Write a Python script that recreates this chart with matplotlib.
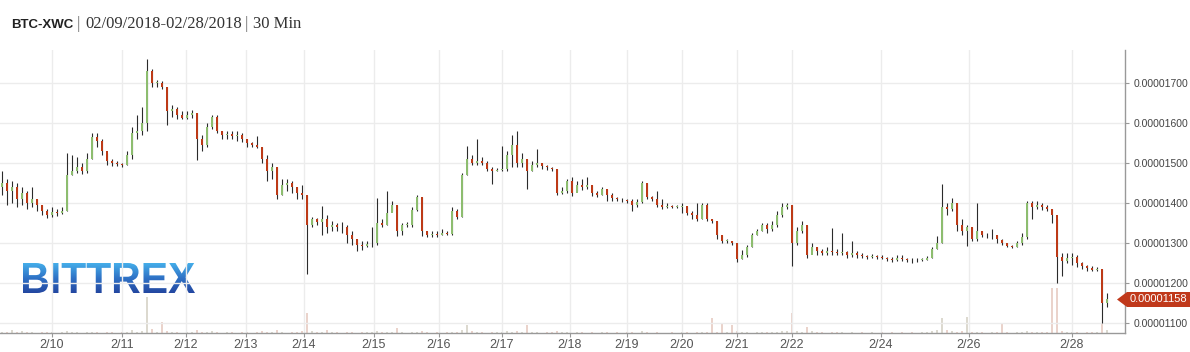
import numpy as np
import matplotlib
matplotlib.use("Agg")
import matplotlib.pyplot as plt
from matplotlib.textpath import TextPath
from matplotlib.patches import PathPatch, Polygon
from matplotlib.font_manager import FontProperties
from matplotlib.colors import LinearSegmentedColormap
from matplotlib.ticker import FuncFormatter

# prices in satoshi (1e-8 BTC), one candle per slot
first_open = 1440
close = [1450, 1430, 1440, 1410, 1425, 1400, 1410, 1395, 1380, 1370,
         1378, 1375, 1380, 1470, 1480, 1490, 1480, 1510, 1565, 1555,
         1530, 1505, 1500, 1497, 1495, 1520, 1575, 1580, 1600, 1730,
         1700, 1700, 1690, 1630, 1635, 1620, 1612, 1620, 1625, 1560,
         1545, 1590, 1615, 1580, 1570, 1572, 1568, 1570, 1560, 1548,
         1545, 1540, 1510, 1480, 1490, 1420, 1445, 1450, 1440, 1425,
         1420, 1345, 1358, 1352, 1360, 1340, 1345, 1338, 1340, 1320,
         1310, 1295, 1292, 1298, 1300, 1350, 1345, 1375, 1395, 1330,
         1345, 1345, 1383, 1415, 1330, 1320, 1322, 1320, 1325, 1322,
         1380, 1365, 1470, 1510, 1500, 1505, 1500, 1485, 1480, 1482,
         1485, 1520, 1545, 1500, 1510, 1480, 1495, 1500, 1492, 1488,
         1485, 1425, 1430, 1455, 1425, 1445, 1440, 1445, 1425, 1420,
         1435, 1420, 1412, 1410, 1408, 1405, 1395, 1402, 1450, 1415,
         1410, 1395, 1390, 1392, 1390, 1390, 1392, 1375, 1370, 1360,
         1395, 1360, 1355, 1320, 1305, 1305, 1298, 1260, 1270, 1290,
         1320, 1330, 1345, 1335, 1345, 1370, 1390, 1395, 1300, 1330,
         1345, 1270, 1290, 1280, 1275, 1280, 1278, 1275, 1278, 1270,
         1275, 1270, 1268, 1265, 1268, 1265, 1262, 1260, 1258, 1262,
         1260, 1258, 1256, 1258, 1258, 1262, 1285, 1300, 1390, 1385,
         1400, 1345, 1330, 1340, 1310, 1330, 1320, 1318, 1320, 1308,
         1300, 1292, 1290, 1300, 1315, 1400, 1390, 1395, 1390, 1385,
         1370, 1265, 1255, 1262, 1265, 1250, 1242, 1238, 1232, 1235,
         1150, 1158]
high = [1479, 1460, 1455, 1450, 1440, 1430, 1440, 1410, 1395, 1385,
        1390, 1385, 1390, 1525, 1520, 1515, 1500, 1525, 1575, 1575,
        1560, 1525, 1510, 1505, 1500, 1530, 1590, 1620, 1640, 1758,
        1733, 1708, 1705, 1690, 1645, 1640, 1630, 1630, 1632, 1625,
        1570, 1600, 1620, 1620, 1580, 1580, 1578, 1580, 1575, 1560,
        1552, 1567, 1540, 1520, 1500, 1490, 1460, 1460, 1455, 1440,
        1445, 1420, 1365, 1362, 1392, 1370, 1355, 1350, 1352, 1345,
        1330, 1310, 1305, 1305, 1340, 1412, 1360, 1429, 1405, 1395,
        1350, 1352, 1390, 1420, 1415, 1330, 1330, 1330, 1335, 1330,
        1390, 1385, 1475, 1542, 1520, 1558, 1515, 1505, 1490, 1487,
        1542, 1530, 1570, 1579, 1525, 1510, 1505, 1533, 1500, 1495,
        1490, 1485, 1440, 1460, 1465, 1455, 1460, 1465, 1445, 1430,
        1440, 1435, 1425, 1415, 1412, 1410, 1408, 1410, 1454, 1450,
        1418, 1430, 1410, 1398, 1395, 1395, 1400, 1392, 1380, 1400,
        1400, 1400, 1360, 1355, 1320, 1310, 1305, 1298, 1282, 1295,
        1325, 1335, 1350, 1350, 1355, 1380, 1400, 1400, 1395, 1340,
        1355, 1345, 1300, 1290, 1285, 1290, 1337, 1285, 1325, 1280,
        1305, 1280, 1275, 1270, 1272, 1270, 1268, 1265, 1265, 1268,
        1270, 1262, 1262, 1262, 1262, 1266, 1290, 1317, 1446, 1400,
        1412, 1400, 1360, 1345, 1340, 1400, 1330, 1325, 1335, 1320,
        1310, 1300, 1295, 1305, 1325, 1405, 1405, 1405, 1400, 1395,
        1385, 1360, 1275, 1275, 1275, 1270, 1252, 1245, 1242, 1240,
        1235, 1175]
low = [1420, 1395, 1400, 1390, 1395, 1385, 1390, 1380, 1370, 1362,
       1365, 1368, 1372, 1380, 1470, 1475, 1472, 1475, 1510, 1540,
       1520, 1495, 1492, 1492, 1490, 1495, 1510, 1560, 1570, 1580,
       1690, 1690, 1685, 1593, 1615, 1610, 1608, 1610, 1612, 1508,
       1530, 1540, 1585, 1575, 1560, 1560, 1560, 1555, 1552, 1540,
       1540, 1537, 1500, 1454, 1460, 1408, 1420, 1430, 1425, 1410,
       1410, 1221, 1340, 1345, 1320, 1325, 1330, 1330, 1325, 1300,
       1295, 1280, 1282, 1288, 1290, 1295, 1340, 1345, 1380, 1317,
       1320, 1338, 1340, 1380, 1317, 1315, 1315, 1315, 1318, 1318,
       1320, 1360, 1365, 1470, 1495, 1495, 1495, 1480, 1446, 1478,
       1478, 1480, 1490, 1490, 1490, 1433, 1480, 1490, 1485, 1482,
       1480, 1420, 1422, 1425, 1418, 1430, 1432, 1435, 1418, 1415,
       1420, 1405, 1405, 1405, 1402, 1400, 1379, 1390, 1400, 1410,
       1405, 1390, 1385, 1386, 1386, 1386, 1375, 1370, 1360, 1355,
       1360, 1355, 1350, 1310, 1300, 1300, 1295, 1252, 1258, 1265,
       1290, 1318, 1330, 1325, 1330, 1340, 1365, 1385, 1242, 1295,
       1325, 1262, 1280, 1268, 1268, 1270, 1270, 1268, 1270, 1262,
       1265, 1262, 1262, 1260, 1262, 1260, 1258, 1255, 1252, 1255,
       1255, 1252, 1250, 1252, 1254, 1256, 1262, 1285, 1300, 1370,
       1380, 1330, 1320, 1292, 1305, 1305, 1315, 1312, 1310, 1300,
       1295, 1288, 1286, 1288, 1295, 1310, 1360, 1385, 1382, 1380,
       1350, 1200, 1217, 1250, 1245, 1240, 1235, 1230, 1228, 1228,
       1100, 1140]
volume = [1, 1, 3, 1, 2, 1, 1, 0, 1, 1,
          1, 0, 1, 2, 1, 1, 0, 1, 1, 1,
          0, 1, 1, 0, 1, 1, 3, 1, 2, 36,
          4, 1, 11, 2, 1, 1, 0, 1, 1, 3,
          1, 1, 2, 1, 0, 1, 1, 0, 1, 1,
          0, 1, 2, 1, 1, 3, 1, 0, 1, 1,
          2, 20, 2, 1, 1, 3, 1, 1, 0, 1,
          1, 0, 1, 1, 1, 2, 1, 1, 1, 5,
          1, 0, 1, 1, 2, 1, 0, 1, 0, 1,
          1, 1, 3, 8, 2, 1, 1, 0, 1, 1,
          1, 2, 1, 2, 1, 8, 1, 1, 0, 1,
          1, 2, 1, 1, 0, 1, 1, 0, 1, 0,
          1, 1, 0, 1, 0, 1, 1, 0, 2, 1,
          0, 1, 0, 0, 1, 0, 1, 1, 0, 1,
          1, 1, 15, 1, 10, 1, 8, 2, 1, 1,
          0, 1, 1, 1, 1, 1, 2, 2, 20, 2,
          1, 6, 2, 1, 1, 0, 1, 1, 1, 0,
          1, 0, 1, 0, 1, 0, 1, 0, 1, 0,
          1, 0, 1, 0, 1, 1, 2, 3, 15, 3,
          2, 1, 2, 16, 1, 1, 1, 0, 1, 1,
          10, 1, 0, 1, 1, 2, 1, 1, 1, 1,
          45, 45, 2, 1, 1, 1, 0, 1, 1, 1,
          10, 3]

tick_pos = [10, 24, 36.8, 48.8, 60.4, 74.4, 87.4, 100, 113.6, 125,
            136, 147, 158, 175.8, 193.4, 214]
tick_labels = ["2/10", "2/11", "2/12", "2/13", "2/14", "2/15", "2/16", "2/17",
               "2/18", "2/19", "2/20", "2/21", "2/22", "2/24", "2/26", "2/28"]
price_ticks = [1100, 1200, 1300, 1400, 1500, 1600, 1700]

sat = 1e-8
c = np.array(close) * sat
h = np.array(high) * sat
l = np.array(low) * sat
o = np.concatenate([[first_open], close[:-1]]) * sat
x = np.arange(len(c))
up = c >= o

GREEN = "#8dbd6f"
RED = "#bd3a17"
W, H = 1190, 352

fig = plt.figure(figsize=(W / 100, H / 100), dpi=100)
fig.patch.set_facecolor("white")
ax = fig.add_axes([0, 19 / H, 1125 / W, 283 / H])

# volume behind
axv = ax.twinx()
axv.set_zorder(0)
ax.set_zorder(1)
ax.patch.set_visible(False)
vcol = np.where(up, "#dcd9cf", "#ead3cb")
axv.bar(x, volume, width=0.35, color=vcol, linewidth=0)
axv.set_ylim(0, 283)
axv.set_yticks([])
for s in axv.spines.values():
    s.set_visible(False)

# candles
ax.vlines(x, l, h, color="#2b2b2b", lw=0.8, zorder=2)
body = np.where(np.abs(c - o) < 1.5 * sat, 1.5 * sat, np.abs(c - o))
ax.bar(x, body, bottom=np.minimum(o, c), width=0.45,
       color=np.where(up, GREEN, RED), linewidth=0, zorder=3)

ax.set_xlim(-0.4, 224.6)
ax.set_ylim(1074.25 * sat, 1781.75 * sat)

ax.set_xticks(tick_pos)
ax.set_xticklabels(tick_labels)
ax.set_yticks(np.array(price_ticks) * sat)
ax.yaxis.set_major_formatter(FuncFormatter(lambda v, p: f"{v:.8f}"))
ax.yaxis.tick_right()
ax.grid(True, color="#ececec", lw=1)
ax.set_axisbelow(True)
for s in ["left", "top"]:
    ax.spines[s].set_visible(False)
for s in ["right", "bottom"]:
    ax.spines[s].set_color("#999999")
    ax.spines[s].set_linewidth(1)
ax.tick_params(axis="x", length=3, color="#999999", pad=1.5,
               labelsize=9, labelcolor="#555555")
ax.tick_params(axis="y", length=3, color="#999999", pad=3,
               labelsize=7.5, labelcolor="#444444")
for t in ax.get_xticklabels() + ax.get_yticklabels():
    t.set_fontfamily("Liberation Sans")

# title
fy = 1 - 27.5 / H
fig.text(11 / W, fy, "BTC-XWC", fontsize=9.5, fontweight="bold",
         family="Liberation Sans", color="#222222", va="baseline")
fig.text(77 / W, fy, "|", fontsize=12, family="Liberation Serif",
         color="#777777", va="baseline")
fig.text(85 / W, fy, "02/09/2018-02/28/2018", fontsize=12,
         family="Liberation Serif", color="#333333", va="baseline")
fig.text(245 / W, fy, "|", fontsize=12, family="Liberation Serif",
         color="#777777", va="baseline")
fig.text(253 / W, fy, "30 Min", fontsize=12, family="Liberation Serif",
         color="#333333", va="baseline")

# watermark
lax = fig.add_axes([23 / W, 59 / H, 172 / W, 30 / H])
tp = TextPath((0, 0), "BITTREX", size=100,
              prop=FontProperties(family="Liberation Sans", weight="bold"))
bb = tp.get_extents()
lax.set_xlim(bb.x0, bb.x1)
lax.set_ylim(bb.y0, bb.y1)
lax.axis("off")
patch = PathPatch(tp, fc="none", ec="none")
lax.add_patch(patch)
cmap = LinearSegmentedColormap.from_list("bx", ["#2346a0", "#2f72c6", "#45aeea"])
im = lax.imshow(np.linspace(0, 1, 256).reshape(-1, 1), cmap=cmap,
                extent=[bb.x0, bb.x1, bb.y0, bb.y1], aspect="auto",
                origin="lower")
im.set_clip_path(patch)

# last price tag
yp = ax.transData.transform((0, c[-1]))[1]
xa = ax.transAxes.transform((1, 0))[0]
pts = [(xa - 8, yp), (xa + 2, yp + 7.5), (W, yp + 7.5), (W, yp - 7.5), (xa + 2, yp - 7.5)]
pts = fig.transFigure.inverted().transform(pts)
fig.patches.append(Polygon(pts, closed=True, transform=fig.transFigure,
                           fc="#c0391b", ec="none"))
fig.text((xa + 33) / W, yp / H, f"{c[-1]:.8f}", fontsize=8,
         family="Liberation Sans", color="white", ha="center", va="center")

fig.savefig("out.png", dpi=100)
